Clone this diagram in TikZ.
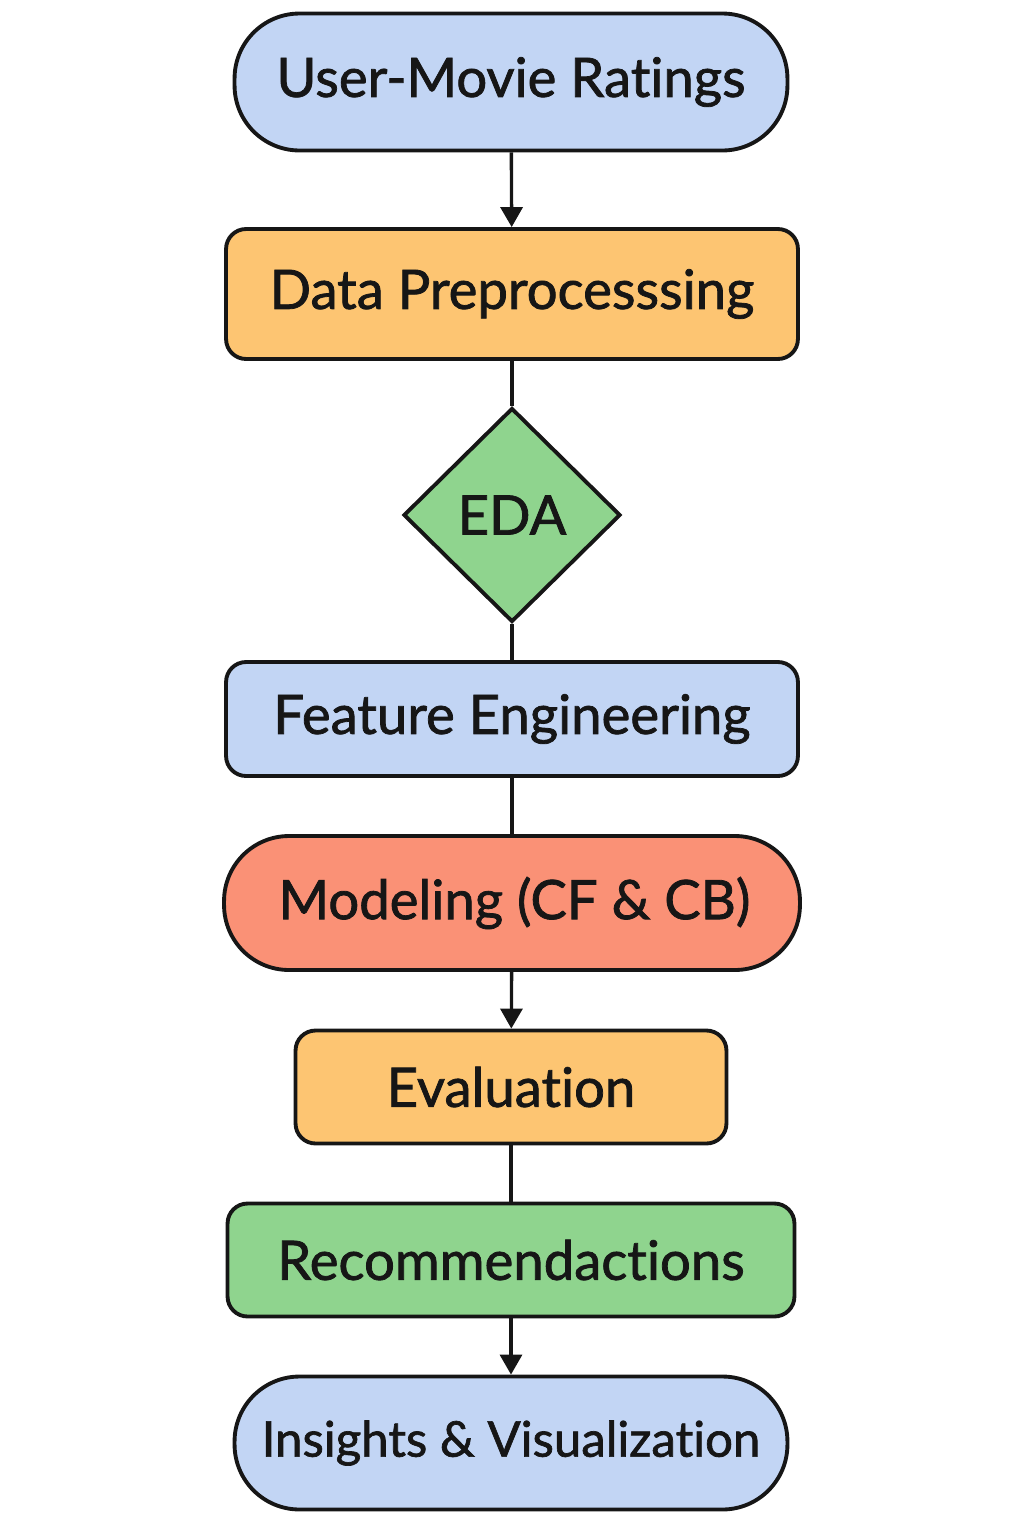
\documentclass[tikz,border=0pt]{standalone}
\usepackage{fontspec}
\setmainfont{Lato}[FakeBold=1.4, Ligatures=NoCommon]
\usetikzlibrary{shapes.geometric, arrows.meta}

\definecolor{boxblue}{RGB}{194,213,244}
\definecolor{boxorange}{RGB}{253,197,114}
\definecolor{boxgreen}{RGB}{143,212,142}
\definecolor{boxred}{RGB}{250,145,118}
\definecolor{ink}{RGB}{22,22,22}

\begin{document}
\begin{tikzpicture}[x=0.02cm, y=-0.02cm,
  every node/.style={font=\fontsize{31}{36}\selectfont, text=ink},
  stadium/.style={rectangle, rounded corners=1.3cm, draw=ink, line width=2.2pt, inner sep=0pt},
  flowbox/.style={rectangle, rounded corners=0.4cm, draw=ink, line width=2.2pt},
  flowline/.style={line width=1.9pt, draw=ink},
  flowarrow/.style={flowline, -{Triangle[width=0.44cm, length=0.4cm]}}]
\useasboundingbox (0,0) rectangle (1024,1536);

\node[stadium, fill=boxblue, minimum width=11.06cm, minimum height=2.74cm] (ratings) at (511,82) {User-Movie Ratings};
\node[flowbox, fill=boxorange, minimum width=11.44cm, minimum height=2.6cm] (prep) at (512,294) {Data Preprocesssing};
\node[diamond, draw=ink, line width=2.2pt, fill=boxgreen, minimum width=4.34cm, minimum height=4.28cm, inner sep=0pt] (eda) at (512,515) {EDA};
\node[flowbox, fill=boxblue, minimum width=11.44cm, minimum height=2.28cm] (feat) at (512,719) {Feature Engineering\hspace{0.5cm}};
\node[stadium, fill=boxred, minimum width=11.52cm, minimum height=2.68cm] (model) at (512,903) {\hspace{0.1cm}Modeling (CF \& CB)};
\node[flowbox, fill=boxorange, minimum width=8.62cm, minimum height=2.26cm] (eval) at (511,1087) {Evaluation};
\node[flowbox, fill=boxgreen, minimum width=11.34cm, minimum height=2.26cm] (recs) at (511,1260) {Recommendactions};
\node[stadium, fill=boxblue, minimum width=11.06cm, minimum height=2.66cm, font=\fontsize{28}{34}\selectfont] (insight) at (511,1443) {Insights \& Visualization};

\draw[flowarrow] (ratings) -- (prep);
\draw[flowline] (prep) -- (eda);
\draw[flowline] (eda) -- (feat);
\draw[flowline] (feat) -- (model);
\draw[flowarrow] (model) -- (eval);
\draw[flowline] (eval) -- (recs);
\draw[flowarrow] (recs) -- (insight);
\end{tikzpicture}
\end{document}
